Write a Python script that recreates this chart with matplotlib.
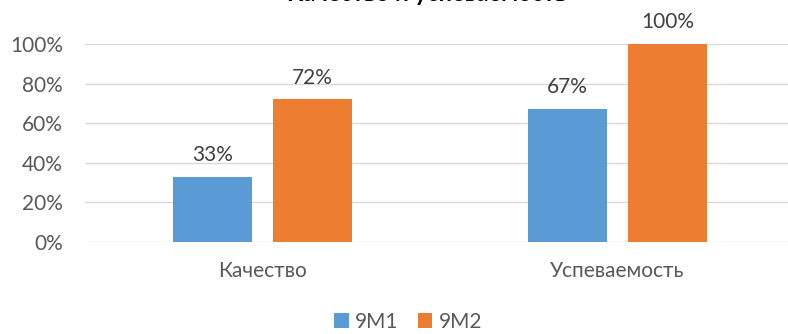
import matplotlib.pyplot as plt
import numpy as np

categories = ['Качество', 'Успеваемость']
series_names = ['9М1', '9М2']
values_9m1 = [33, 67]
values_9m2 = [72, 100]
y_ticks = [0, 20, 40, 60, 80, 100]
title = 'Качество и успеваемость'

plt.rcParams['font.family'] = ['Lato', 'DejaVu Sans']

fig = plt.figure(figsize=(7.88, 3.34), dpi=100)
ax = fig.add_axes([85 / 788, 1 - 242 / 334, 710 / 788, 198 / 334])

x = np.arange(len(categories))
width = 0.222
offset = 0.141
colors = ['#5B9BD5', '#ED7D31']

for vals, off, color, name in [(values_9m1, -offset, colors[0], series_names[0]),
                               (values_9m2, offset, colors[1], series_names[1])]:
    bars = ax.bar(x + off, vals, width, color=color, label=name, zorder=3)
    for b, v in zip(bars, vals):
        ax.text(b.get_x() + b.get_width() / 2, v + 6, f'{v}%', ha='center', va='bottom',
                fontsize=15, color='#404040')

ax.set_xlim(-0.5, 1.5)
ax.set_ylim(0, 100)
ax.set_yticks(y_ticks)
ax.set_yticklabels([f'{t}%' for t in y_ticks])
ax.set_xticks(x)
ax.set_xticklabels(categories)
ax.grid(axis='y', color='#D9D9D9', linewidth=1, zorder=0)
for s in ax.spines.values():
    s.set_visible(False)
ax.tick_params(length=0, labelsize=15, colors='#595959')
ax.tick_params(axis='y', pad=16)
ax.tick_params(axis='x', pad=14)

# title is cut off at the top edge, as in the source image
fig.text(427 / 788, 1 - 0.7 / 334, title, ha='center', va='baseline', fontsize=17,
         fontweight='bold', color='#000000')

fig.legend(loc='center', bbox_to_anchor=(0.518, 1 - 322 / 334), ncol=2, frameon=False,
           fontsize=15, handlelength=0.7, handleheight=0.7, handletextpad=0.3,
           columnspacing=0.9, labelcolor='#595959')

plt.savefig('out.png', dpi=100)
